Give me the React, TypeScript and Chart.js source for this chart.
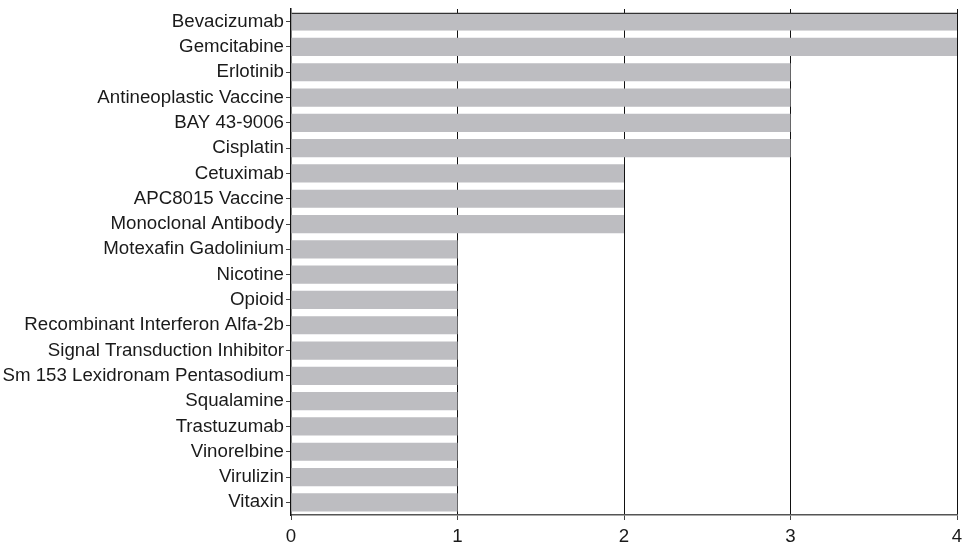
import React, { useEffect, useRef } from "react";
import { Chart, registerables } from "chart.js";

Chart.register(...registerables);

const categories = [
  "Bevacizumab",
  "Gemcitabine",
  "Erlotinib",
  "Antineoplastic Vaccine",
  "BAY 43-9006",
  "Cisplatin",
  "Cetuximab",
  "APC8015 Vaccine",
  "Monoclonal Antibody",
  "Motexafin Gadolinium",
  "Nicotine",
  "Opioid",
  "Recombinant Interferon Alfa-2b",
  "Signal Transduction Inhibitor",
  "Sm 153 Lexidronam Pentasodium",
  "Squalamine",
  "Trastuzumab",
  "Vinorelbine",
  "Virulizin",
  "Vitaxin",
];

const counts = [4, 4, 3, 3, 3, 3, 2, 2, 2, 1, 1, 1, 1, 1, 1, 1, 1, 1, 1, 1];

const xTicks = [0, 1, 2, 3, 4];

export default function App() {
  const ref = useRef<HTMLCanvasElement | null>(null);

  useEffect(() => {
    if (!ref.current) return;
    const font = { family: "'Liberation Sans', Arial, Helvetica, sans-serif", size: 18.7 };
    const chart = new Chart(ref.current, {
      type: "bar",
      data: {
        labels: categories,
        datasets: [
          {
            data: counts,
            backgroundColor: "#bdbdc1",
            borderColor: "#333333",
            borderWidth: (ctx: any) =>
              ctx.dataIndex === 0 ? { top: 1.5, left: 0, right: 0, bottom: 0 } : 0,
            borderSkipped: false,
            barPercentage: 0.72,
            categoryPercentage: 1,
          },
        ],
      },
      options: {
        indexAxis: "y",
        animation: false,
        responsive: true,
        maintainAspectRatio: false,
        layout: { padding: { top: 9, right: 5, left: 0, bottom: 0 } },
        plugins: {
          legend: { display: false },
          tooltip: { enabled: false },
        },
        scales: {
          x: {
            type: "linear",
            min: 0,
            max: 4,
            afterBuildTicks: (axis: any) => {
              axis.ticks = xTicks.map((v) => ({ value: v }));
            },
            afterFit: (axis: any) => {
              axis.height = 28;
              axis.paddingLeft = 0;
              axis.paddingRight = 0;
            },
            ticks: { color: "#1a1a1a", font, padding: 6 },
            grid: {
              color: (ctx: any) => (ctx.tick && ctx.tick.value === 0 ? "rgba(0,0,0,0)" : "#111"),
              lineWidth: 1,
              tickLength: 5,
              drawTicks: true,
              tickColor: "#444",
            },
            border: { display: true, color: "#555", width: 1.5 },
          },
          y: {
            afterFit: (axis: any) => {
              axis.width = 291;
              axis.paddingTop = 0;
              axis.paddingBottom = 0;
            },
            ticks: { color: "#1a1a1a", font, padding: 2, autoSkip: false },
            grid: {
              offset: false,
              drawOnChartArea: false,
              tickLength: 5,
              tickColor: "#444",
            },
            border: { display: true, color: "#111", width: 1.5 },
          },
        },
      },
    } as any);
    return () => chart.destroy();
  }, []);

  return (
    <div style={{ position: "fixed", left: 0, top: 0, width: 962, height: 543, background: "#fff" }}>
      <canvas ref={ref} />
    </div>
  );
}
